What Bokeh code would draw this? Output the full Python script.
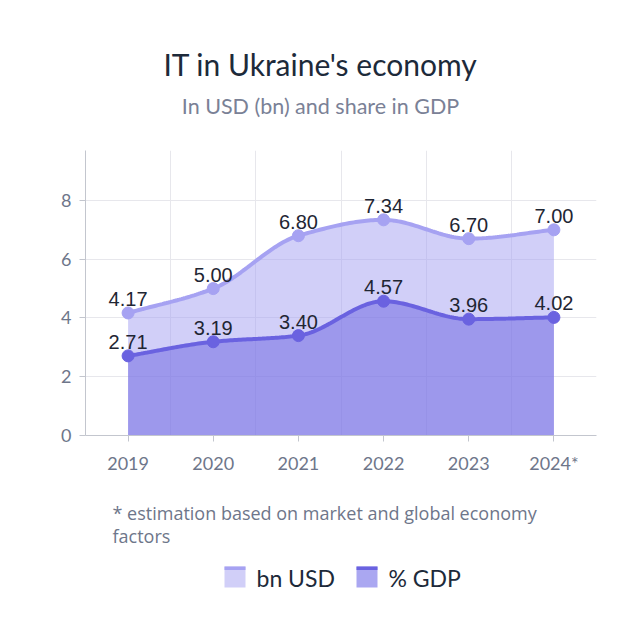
import numpy as np
from bokeh.plotting import figure
from bokeh.layouts import column
from bokeh.models import Range1d, FixedTicker, ColumnDataSource
from bokeh.core.properties import value
from bokeh.embed import file_html
from bokeh.resources import INLINE

# ---- data ----
years = ["2019", "2020", "2021", "2022", "2023", "2024*"]
bn_usd = [4.17, 5.00, 6.80, 7.34, 6.70, 7.00]
gdp_share = [2.71, 3.19, 3.40, 4.57, 3.96, 4.02]
y_ticks = [0, 2, 4, 6, 8]
title_text = "IT in Ukraine's economy"
subtitle_text = "In USD (bn) and share in GDP"
footnote_lines = ["* estimation based on market and global economy", "factors"]
legend_labels = ["bn USD", "% GDP"]

C_USD_LINE = "#a6a2f2"
C_USD_FILL = "#a39ff2"
C_GDP_LINE = "#6a62e0"
C_GDP_FILL = "#6a62e0"
DARK = "#1d2a3a"
GRAY = "#6e768a"
FONT = "Lato"


def smooth(ys, n=40):
    """Monotone cubic Hermite curve through the points (drawing only)."""
    ys = np.asarray(ys, dtype=float)
    xs = np.arange(len(ys), dtype=float)
    d = np.diff(ys)
    m = np.zeros_like(ys)
    m[0], m[-1] = d[0], d[-1]
    for i in range(1, len(ys) - 1):
        if d[i - 1] * d[i] <= 0:
            m[i] = 0.0
        else:
            m[i] = 2.0 / (1.0 / d[i - 1] + 1.0 / d[i])
    ox, oy = [], []
    for i in range(len(ys) - 1):
        t = np.linspace(0, 1, n, endpoint=(i == len(ys) - 2))
        h00 = 2 * t**3 - 3 * t**2 + 1
        h10 = t**3 - 2 * t**2 + t
        h01 = -2 * t**3 + 3 * t**2
        h11 = t**3 - t**2
        oy.extend(h00 * ys[i] + h10 * m[i] + h01 * ys[i + 1] + h11 * m[i + 1])
        ox.extend(xs[i] + t)
    return np.array(ox), np.array(oy)


W = 624
BL, BR = 85, W - 596
YMAX = 9.7
H_TOP, H_MAIN = 150, 340
H_BOT = 616 - H_TOP - H_MAIN
FR_L, FR_R = BL, W - BR   # frame edges in canvas px


def deco_fig(h, y0):
    f = figure(width=W, height=h, x_range=Range1d(FR_L, FR_R), y_range=Range1d(y0 + h, y0),
               x_axis_type=None, y_axis_type=None, output_backend="svg",
               toolbar_location=None, min_border_left=BL, min_border_right=BR,
               min_border_top=0, min_border_bottom=0)
    f.outline_line_color = None
    f.grid.visible = False
    return f


# ---- top: titles ----
t = deco_fig(H_TOP, 0)
t.text(x=[320], y=[63], text=[title_text], text_align="center", text_baseline="middle",
       text_font=value(FONT), text_font_size="30px", text_color=DARK)
t.text(x=[320], y=[105], text=[subtitle_text], text_align="center", text_baseline="middle",
       text_font=value(FONT), text_font_size="21.5px", text_color="#7a8196")

# ---- main chart ----
p = figure(width=W, height=H_MAIN, x_range=Range1d(-0.5, 5.5), y_range=Range1d(0, YMAX),
           output_backend="svg", toolbar_location=None, title=None,
           min_border_left=BL, min_border_right=BR, min_border_top=0,
           min_border_bottom=H_MAIN - 285)
p.outline_line_color = None

idx = list(range(len(years)))
ux, uy = smooth(bn_usd)
gx, gy = smooth(gdp_share)
p.varea(x=ux, y1=0, y2=uy, fill_color=C_USD_FILL, fill_alpha=0.5)
p.varea(x=gx, y1=0, y2=gy, fill_color=C_GDP_FILL, fill_alpha=0.5)
p.line(ux, uy, line_color=C_USD_LINE, line_width=4)
p.line(gx, gy, line_color=C_GDP_LINE, line_width=4)
p.scatter(idx, bn_usd, size=12, fill_color=C_USD_LINE, line_color=C_USD_LINE)
p.scatter(idx, gdp_share, size=12, fill_color=C_GDP_LINE, line_color=C_GDP_LINE)

src = ColumnDataSource(dict(
    x=idx + idx,
    y=bn_usd + gdp_share,
    t=[f"{v:.2f}" for v in bn_usd] + [f"{v:.2f}" for v in gdp_share],
))
p.text(x="x", y="y", text="t", source=src, y_offset=-7, text_align="center",
       text_baseline="bottom", text_font=value("Liberation Sans"),
       text_font_size="20px", text_color="#1f2633")

p.xaxis.ticker = FixedTicker(ticks=idx)
p.xaxis.major_label_overrides = {i: y for i, y in zip(idx, years)}
p.xaxis.major_tick_out = 6
p.xaxis.major_tick_in = 0
p.xaxis.minor_tick_out = 0
p.xaxis.minor_tick_in = 0
p.xaxis.major_label_standoff = 10
p.yaxis.ticker = FixedTicker(ticks=y_ticks)
p.yaxis.major_tick_out = 6
p.yaxis.major_tick_in = 0
p.yaxis.minor_tick_out = 0
p.yaxis.minor_tick_in = 0
p.yaxis.major_label_standoff = 8
for ax in (p.xaxis, p.yaxis):
    ax.axis_line_color = "#c3c6ce"
    ax.major_tick_line_color = "#c3c6ce"
    ax.major_label_text_font = FONT
    ax.major_label_text_font_size = "18px"
    ax.major_label_text_color = GRAY

p.xgrid.ticker = FixedTicker(ticks=[0.5, 1.5, 2.5, 3.5, 4.5])
p.xgrid.grid_line_color = "#e7e7ec"
p.ygrid.ticker = FixedTicker(ticks=y_ticks)
p.ygrid.grid_line_color = "#e7e7ec"

# ---- bottom: footnote + legend ----
y0 = H_TOP + H_MAIN
b = deco_fig(H_BOT, y0)
b.text(x=[112, 112], y=[512, 535], text=footnote_lines, text_align="left",
       text_baseline="middle", text_font=value("Open Sans"), text_font_size="18px",
       text_color=GRAY)
sw_left = [224, 356]
sw_fill = ["#d1cff8", "#aaa7f1"]
sw_top = ["#a6a2f2", "#6a62e0"]
for i, lab in enumerate(legend_labels):
    b.quad(left=sw_left[i], right=sw_left[i] + 21, top=566, bottom=587,
           fill_color=sw_fill[i], line_color=None)
    b.quad(left=sw_left[i], right=sw_left[i] + 21, top=566, bottom=569.5,
           fill_color=sw_top[i], line_color=None)
    b.text(x=[sw_left[i] + 32], y=[577], text=[lab], text_align="left",
           text_baseline="middle", text_font=value(FONT), text_font_size="23px",
           text_color=DARK)

layout = column(t, p, b, spacing=0)
open("out.html", "w").write(file_html(layout, INLINE))
